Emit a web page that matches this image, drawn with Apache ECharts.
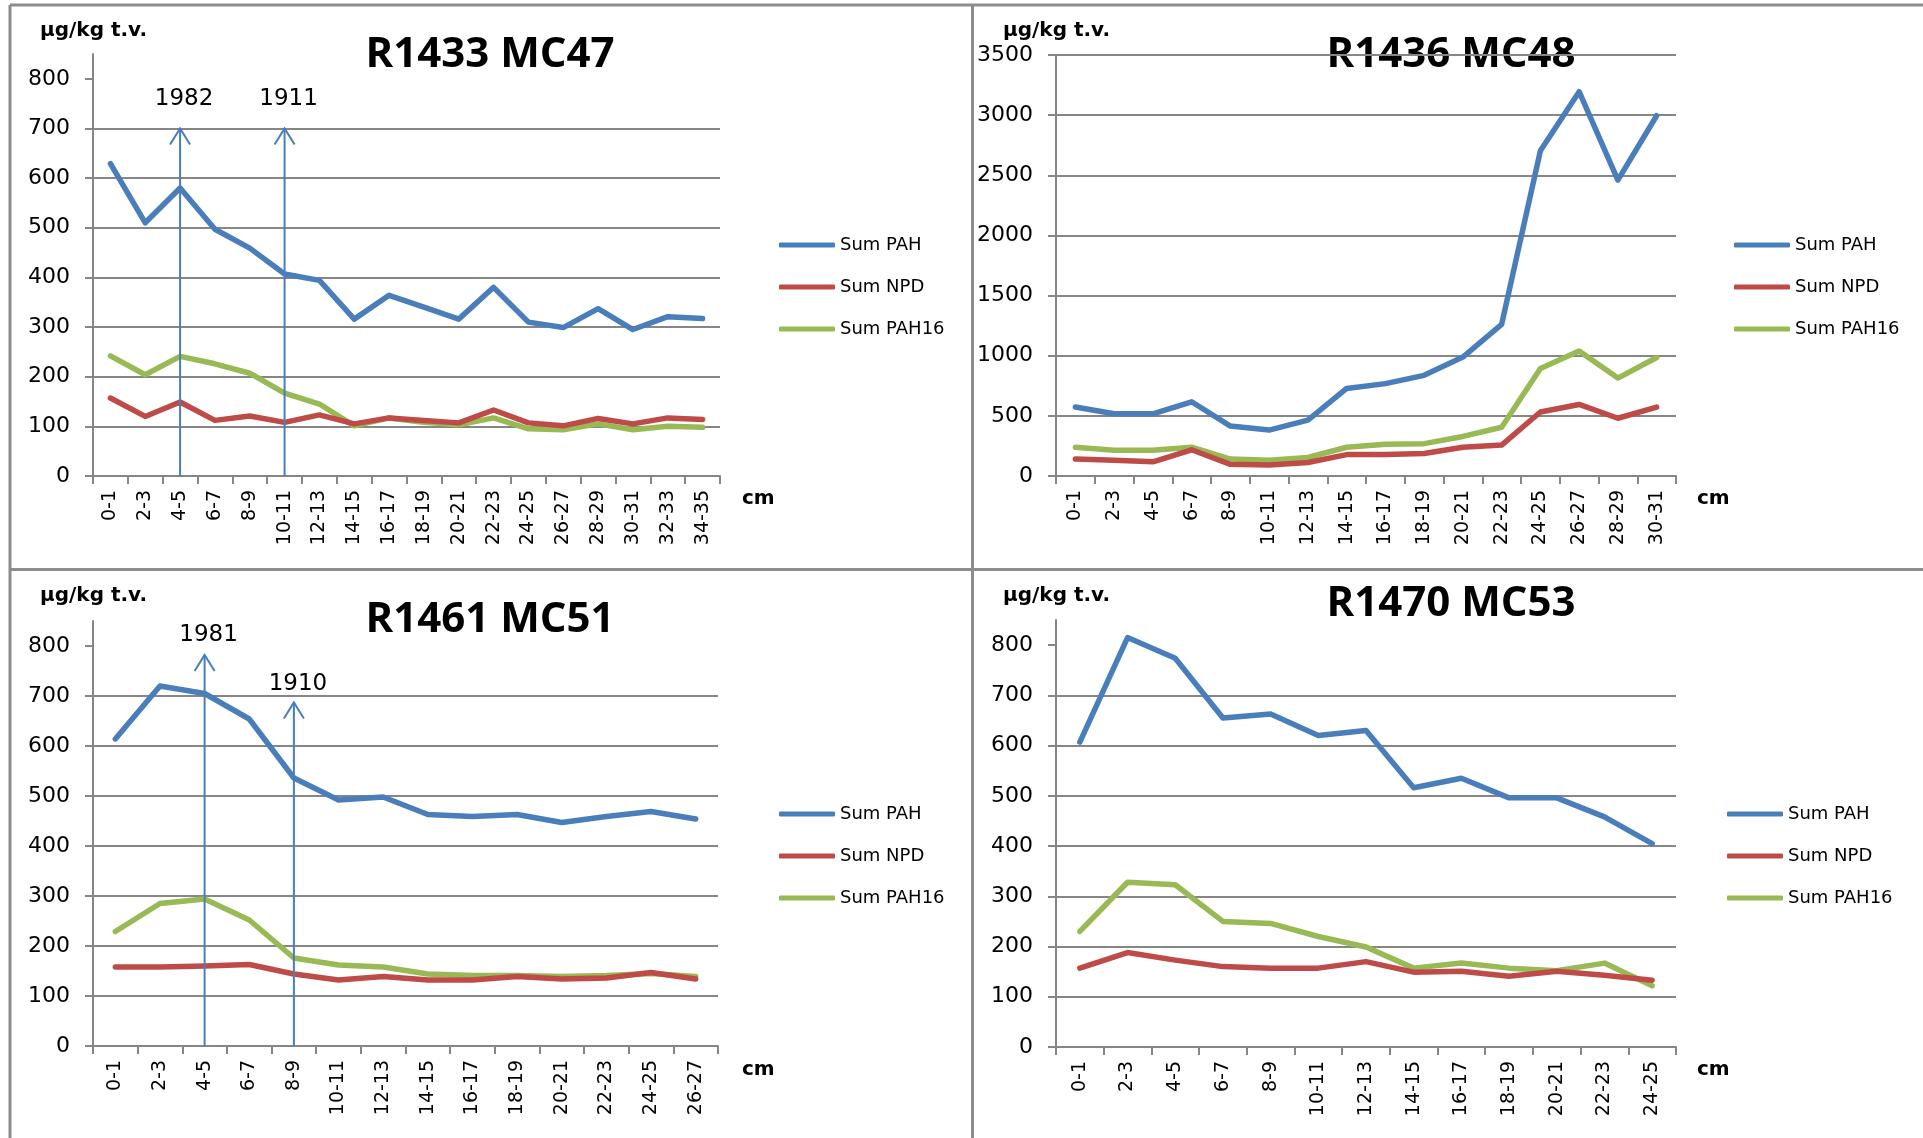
<!DOCTYPE html>
<html><head><meta charset="utf-8">
<script src="https://cdn.jsdelivr.net/npm/echarts@6/dist/echarts.min.js"></script>
<style>html,body{margin:0;padding:0;background:#fff}#c{width:1923px;height:1138px}</style>
</head><body><div id="c"></div>
<script>
// ---------- DATA ----------
const seriesNames = ['Sum PAH', 'Sum NPD', 'Sum PAH16'];
const titles = ['R1433 MC47', 'R1436 MC48', 'R1461 MC51', 'R1470 MC53'];
const unitLabel = 'µg/kg t.v.';
const xUnit = 'cm';

const cats1 = ['0-1','2-3','4-5','6-7','8-9','10-11','12-13','14-15','16-17','18-19','20-21','22-23','24-25','26-27','28-29','30-31','32-33','34-35'];
const pah1   = [629, 510, 580, 497, 459, 407, 394, 316, 364, 340, 316, 380, 310, 299, 337, 295, 321, 317];
const npd1   = [157, 120, 149, 112, 121, 108, 123, 105, 117, 112, 107, 133, 107, 101, 116, 105, 117, 114];
const pah16_1= [242, 204, 241, 226, 207, 167, 145, 101, 117, 108, 103, 117, 95, 93, 105, 93, 100, 98];

const cats2 = ['0-1','2-3','4-5','6-7','8-9','10-11','12-13','14-15','16-17','18-19','20-21','22-23','24-25','26-27','28-29','30-31'];
const pah2   = [573, 517, 517, 617, 415, 382, 465, 728, 768, 837, 989, 1260, 2703, 3195, 2460, 2995];
const npd2   = [141, 130, 118, 218, 97, 91, 112, 178, 178, 187, 239, 257, 532, 595, 480, 573];
const pah16_2= [239, 215, 215, 239, 141, 130, 154, 239, 263, 269, 329, 405, 894, 1039, 814, 985];

const cats3 = ['0-1','2-3','4-5','6-7','8-9','10-11','12-13','14-15','16-17','18-19','20-21','22-23','24-25','26-27'];
const pah3   = [614, 720, 705, 654, 536, 492, 498, 463, 459, 463, 447, 459, 469, 454];
const npd3   = [158, 158, 160, 163, 144, 132, 139, 132, 132, 139, 134, 136, 147, 134];
const pah16_3= [229, 285, 294, 252, 176, 162, 158, 144, 141, 141, 139, 141, 145, 139];

const cats4 = ['0-1','2-3','4-5','6-7','8-9','10-11','12-13','14-15','16-17','18-19','20-21','22-23','24-25'];
const pah4   = [607, 815, 774, 655, 663, 620, 630, 516, 535, 496, 496, 458, 405];
const npd4   = [157, 188, 173, 160, 157, 157, 170, 149, 151, 141, 151, 143, 133];
const pah16_4= [230, 328, 323, 250, 246, 220, 199, 157, 167, 157, 152, 167, 122];

const ticks800 = [0, 100, 200, 300, 400, 500, 600, 700, 800];
const ticks3500 = [0, 500, 1000, 1500, 2000, 2500, 3000, 3500];

// dating arrows: [category, arrow top value, label value]
const arrows1 = [['4-5', 700, 760], ['10-11', 700, 760]];
const years1 = ['1982', '1911'];
const arrows3 = [['4-5', 782, 822], ['8-9', 687, 724]];
const years3 = ['1981', '1910'];

// ---------- LAYOUT / STYLE ----------
const colors = ['#4A7EBB', '#BE4B48', '#98B954'];
const gridCol = '#868686';
const panels = [
  {cats: cats1, vals: [pah1, npd1, pah16_1], max: 850, interval: 100, ticks: ticks800,
   grid: {left: 93, top: 54, width: 627, height: 422}, title: [490, 55], unit: [40, 31], cm: [742, 499], legend: [779, 236]},
  {cats: cats2, vals: [pah2, npd2, pah16_2], max: 3500, interval: 500, ticks: ticks3500,
   grid: {left: 1056, top: 55, width: 620, height: 421}, title: [1451, 55], unit: [1003, 31], cm: [1697, 499], legend: [1734, 236]},
  {cats: cats3, vals: [pah3, npd3, pah16_3], max: 850, interval: 100, ticks: ticks800,
   grid: {left: 93, top: 621, width: 625, height: 425}, title: [490, 620], unit: [40, 596], cm: [742, 1070], legend: [779, 805]},
  {cats: cats4, vals: [pah4, npd4, pah16_4], max: 850, interval: 100, ticks: ticks800,
   grid: {left: 1056, top: 620, width: 620, height: 427}, title: [1451, 604], unit: [1003, 596], cm: [1697, 1070], legend: [1727, 805]}
];

const grids = [], xAxes = [], yAxes = [], series = [], legends = [], graphics = [];

panels.forEach((p, i) => {
  grids.push(Object.assign({containLabel: false}, p.grid));
  xAxes.push({
    type: 'category', gridIndex: i, data: p.cats, boundaryGap: true,
    axisLine: {show: true, lineStyle: {color: gridCol, width: 2}},
    axisTick: {show: true, interval: 0, length: 8, lineStyle: {color: gridCol, width: 2}},
    axisLabel: {interval: 0, rotate: 90, margin: 14, fontFamily: 'DejaVu Sans', fontSize: 19, color: '#000'},
    splitLine: {show: false}
  });
  yAxes.push({
    type: 'value', gridIndex: i, min: 0, max: p.max, interval: p.interval,
    axisLine: {show: true, lineStyle: {color: gridCol, width: 2}},
    axisTick: {show: true, length: 8, lineStyle: {color: gridCol, width: 2}, customValues: p.ticks},
    axisLabel: {margin: 23, fontFamily: 'DejaVu Sans', fontSize: 22, color: '#000', customValues: p.ticks,
      formatter: v => String(v)},
    splitLine: {show: true, showMaxLine: p.ticks[p.ticks.length - 1] === p.max, lineStyle: {color: gridCol, width: 2}}
  });
  seriesNames.forEach((n, k) => {
    series.push({
      type: 'line', name: n, xAxisIndex: i, yAxisIndex: i, data: p.vals[k],
      showSymbol: false, symbol: 'none', smooth: false, silent: true,
      color: colors[k],
      lineStyle: {width: 5.5, color: colors[k], cap: 'round', join: 'round'},
      z: 3 - k + 2
    });
  });
  legends.push({
    data: seriesNames, orient: 'vertical', left: p.legend[0], top: p.legend[1], padding: 0,
    itemWidth: 56, itemHeight: 5, itemGap: 24, icon: 'roundRect', selectedMode: false,
    textStyle: {fontFamily: 'DejaVu Sans', fontSize: 18, color: '#000'}
  });
  graphics.push({type: 'text', x: p.title[0], y: p.title[1], silent: true,
    style: {text: titles[i], font: 'bold 42px "Open Sans"', fill: '#000', align: 'center', verticalAlign: 'middle'}});
  graphics.push({type: 'text', x: p.unit[0], y: p.unit[1], silent: true,
    style: {text: unitLabel, font: 'bold 20px "DejaVu Sans"', fill: '#000', align: 'left', verticalAlign: 'middle'}});
  graphics.push({type: 'text', x: p.cm[0], y: p.cm[1], silent: true,
    style: {text: xUnit, font: 'bold 20px "DejaVu Sans"', fill: '#000', align: 'left', verticalAlign: 'middle'}});
});

function arrowSeries(idx, data, years) {
  return {
    type: 'custom', xAxisIndex: idx, yAxisIndex: idx, data: data, silent: true, z: 10, clip: false,
    encode: {x: 0, y: 1},
    renderItem: function (params, api) {
      const c = api.value(0);
      const p0 = api.coord([c, 0]);
      const p1 = api.coord([c, api.value(1)]);
      const pl = api.coord([c, api.value(2)]);
      const col = '#4A7EBB';
      return {type: 'group', children: [
        {type: 'line', shape: {x1: p0[0], y1: p0[1], x2: p1[0], y2: p1[1]}, style: {stroke: col, lineWidth: 2}},
        {type: 'polyline', shape: {points: [[p1[0] - 10, p1[1] + 16], [p1[0], p1[1]], [p1[0] + 10, p1[1] + 16]]},
         style: {stroke: col, lineWidth: 2, fill: null}},
        {type: 'text', x: pl[0] + 4, y: pl[1],
         style: {text: years[params.dataIndex], font: '23px "DejaVu Sans"', fill: '#000', align: 'center', verticalAlign: 'middle'}}
      ]};
    }
  };
}
series.push(arrowSeries(0, arrows1, years1));
series.push(arrowSeries(2, arrows3, years3));

// panel frame lines
const frameCol = '#8C8C8C';
[[10, 5, 1923, 5], [10, 5, 10, 1138], [972.5, 5, 972.5, 1138], [10, 569.5, 1923, 569.5]].forEach(s => {
  graphics.push({type: 'line', silent: true, shape: {x1: s[0], y1: s[1], x2: s[2], y2: s[3]},
    style: {stroke: frameCol, lineWidth: 3}});
});

const chart = echarts.init(document.getElementById('c'));
chart.setOption({
  backgroundColor: '#fff',
  animation: false,
  grid: grids, xAxis: xAxes, yAxis: yAxes, legend: legends, series: series,
  graphic: graphics
});
</script></body></html>
